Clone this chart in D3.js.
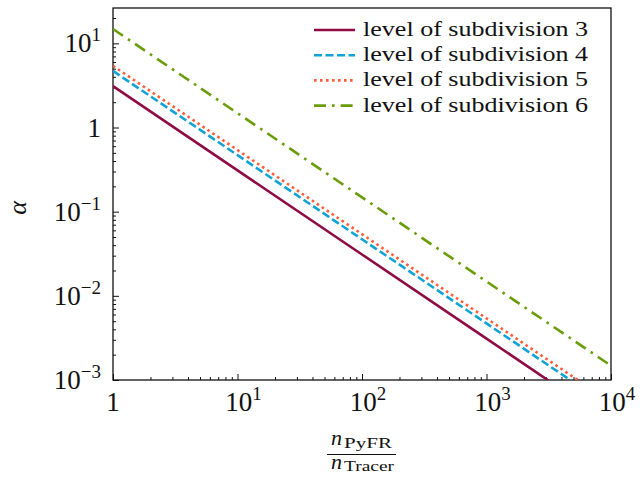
<!DOCTYPE html>
<html lang="en">
<head>
<meta charset="UTF-8">
<title>alpha vs n ratio</title>
<script src="https://cdn.jsdelivr.net/npm/d3@7/dist/d3.min.js"></script>
<style>
  body { margin: 0; background: #fff; }
  text { font-family: "Liberation Serif", "DejaVu Serif", serif; fill: #111; }
</style>
</head>
<body>
<script>
// data (alpha ~ c / n)
var ratio   = [1, 10, 100, 1000, 10000];
var level3  = [3.1, 0.31, 0.031, 0.0031, 0.00031];
var level4  = [4.7, 0.47, 0.047, 0.0047, 0.00047];
var level5  = [5.4, 0.54, 0.054, 0.0054, 0.00054];
var level6  = [14.8, 1.48, 0.148, 0.0148, 0.00148];
var seriesNames = ["level of subdivision 3", "level of subdivision 4",
                   "level of subdivision 5", "level of subdivision 6"];
var xTickExp = [0, 1, 2, 3, 4];
var yTickExp = [-3, -2, -1, 0, 1];

var width = 640, height = 483;
var pLeft = 113, pRight = 611, pTop = 8, pBottom = 380;

var svg = d3.select("body").append("svg")
  .attr("width", width).attr("height", height);

var x = d3.scaleLog().domain([1, 1e4]).range([pLeft, pRight]);
var y = d3.scaleLog().domain([1e-3, 26.3]).range([pBottom, pTop]);

svg.append("clipPath").attr("id", "plot")
  .append("rect").attr("x", pLeft).attr("y", pTop)
  .attr("width", pRight - pLeft).attr("height", pBottom - pTop);

// minor ticks
var xMinor = [], yMinor = [];
for (var e = 0; e < 4; e++) for (var k = 2; k < 10; k++) xMinor.push(k * Math.pow(10, e));
for (var e2 = -3; e2 <= 1; e2++) for (var k2 = 2; k2 < 10; k2++) {
  var v = k2 * Math.pow(10, e2);
  if (v <= 26.3) yMinor.push(v);
}

var xMaj = xTickExp.map(function (p) { return Math.pow(10, p); });
var yMaj = yTickExp.map(function (p) { return Math.pow(10, p); });

function styleAxis(g) {
  g.select(".domain").remove();
  g.selectAll("line").attr("stroke", "#111").attr("stroke-width", 1);
}

svg.append("g").attr("transform", "translate(0," + pBottom + ")")
  .call(d3.axisBottom(x).tickValues(xMinor).tickSize(-3).tickFormat(""))
  .call(styleAxis);
svg.append("g").attr("transform", "translate(0," + pBottom + ")")
  .call(d3.axisBottom(x).tickValues(xMaj).tickSize(-6).tickFormat(""))
  .call(styleAxis);
svg.append("g").attr("transform", "translate(" + pLeft + ",0)")
  .call(d3.axisLeft(y).tickValues(yMinor).tickSize(-3).tickFormat(""))
  .call(styleAxis);
svg.append("g").attr("transform", "translate(" + pLeft + ",0)")
  .call(d3.axisLeft(y).tickValues(yMaj).tickSize(-6).tickFormat(""))
  .call(styleAxis);

// tick labels with superscripts
function powLabel(sel, p) {
  if (p === 0) { sel.append("tspan").text("1"); return; }
  sel.append("tspan").text("10");
  sel.append("tspan").attr("dy", -11).attr("font-size", 19)
    .text(p < 0 ? "\u2212" + (-p) : String(p));
}

xTickExp.forEach(function (p) {
  var t = svg.append("text")
    .attr("x", x(Math.pow(10, p)) + (p === 0 ? 0 : 6))
    .attr("y", 411).attr("font-size", 27).attr("text-anchor", "middle");
  powLabel(t, p);
});
yTickExp.forEach(function (p) {
  var t = svg.append("text")
    .attr("x", 101).attr("y", y(Math.pow(10, p)) + 9)
    .attr("font-size", 27).attr("text-anchor", "end");
  powLabel(t, p);
});

// frame
svg.append("rect").attr("x", pLeft).attr("y", pTop)
  .attr("width", pRight - pLeft).attr("height", pBottom - pTop)
  .attr("fill", "none").attr("stroke", "#111").attr("stroke-width", 1.3);

// lines
var colors = ["#8e0b43", "#12a2d6", "#ff5c3a", "#6a9c08"];
var dashes = [null, "8,3.5", "2.6,3.4", "12,6,2.6,6"];
var series = [level3, level4, level5, level6];

var line = d3.line()
  .x(function (d) { return x(d[0]); })
  .y(function (d) { return y(d[1]); });

var plot = svg.append("g").attr("clip-path", "url(#plot)");
series.forEach(function (s, i) {
  plot.append("path")
    .datum(ratio.map(function (r, j) { return [r, s[j]]; }))
    .attr("d", line)
    .attr("fill", "none")
    .attr("stroke", colors[i])
    .attr("stroke-width", 2.6)
    .attr("stroke-dasharray", dashes[i]);
});

// legend
seriesNames.forEach(function (name, i) {
  var ly = 30 + i * 25.2;
  svg.append("line")
    .attr("x1", 314).attr("x2", 355).attr("y1", ly).attr("y2", ly)
    .attr("stroke", colors[i]).attr("stroke-width", 2.6)
    .attr("stroke-dasharray", dashes[i]);
  svg.append("text")
    .attr("x", 363).attr("y", ly + 6)
    .attr("font-size", 21)
    .attr("textLength", 225).attr("lengthAdjust", "spacingAndGlyphs")
    .text(name);
});

// y label
svg.append("text")
  .attr("transform", "translate(26,208) rotate(-90)")
  .attr("text-anchor", "middle")
  .attr("font-size", 26).attr("font-style", "italic")
  .text("\u03b1");

// x label: fraction
svg.append("text").attr("x", 331).attr("y", 445).attr("font-size", 22)
  .attr("font-style", "italic").text("n");
svg.append("text").attr("x", 344).attr("y", 447.5).attr("font-size", 15)
  .attr("textLength", 48).attr("lengthAdjust", "spacingAndGlyphs").text("PyFR");
svg.append("line").attr("x1", 327).attr("x2", 396).attr("y1", 454.5).attr("y2", 454.5)
  .attr("stroke", "#111").attr("stroke-width", 1);
svg.append("text").attr("x", 331).attr("y", 469).attr("font-size", 22)
  .attr("font-style", "italic").text("n");
svg.append("text").attr("x", 344).attr("y", 471).attr("font-size", 15)
  .attr("textLength", 50).attr("lengthAdjust", "spacingAndGlyphs").text("Tracer");
</script>
</body>
</html>
